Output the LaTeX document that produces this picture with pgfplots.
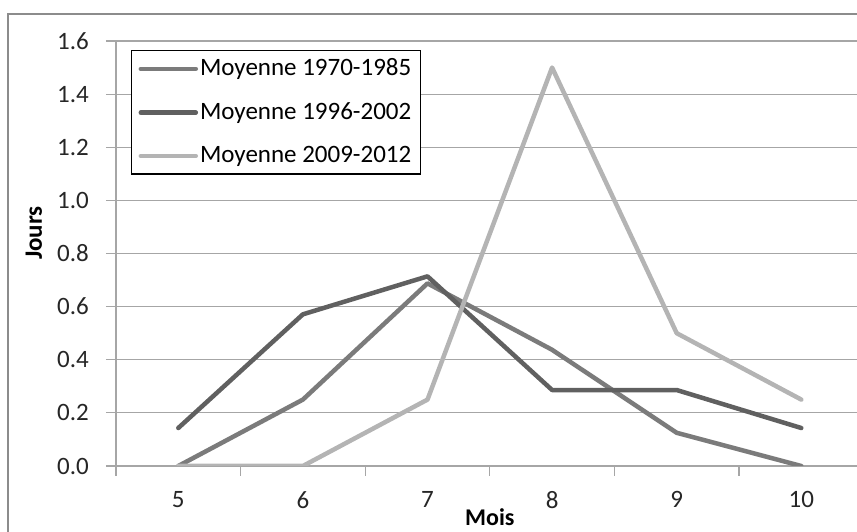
\documentclass[border=0pt]{standalone}
\usepackage{pgfplots}
\pgfplotsset{compat=1.18}
\usepackage{fontspec}
\setmainfont{Carlito}
\definecolor{sA}{HTML}{7B7B7B}
\definecolor{sB}{HTML}{606060}
\definecolor{sC}{HTML}{B4B4B4}
\definecolor{gridc}{HTML}{A6A6A6}
\definecolor{borderc}{HTML}{8C8C8C}
\begin{document}
\fontsize{25}{30}\selectfont
\begin{tikzpicture}
\useasboundingbox (0,0) rectangle (857pt,532pt);
\clip (0,0) rectangle (857pt,532pt);
\draw[borderc, line width=2pt] (8pt,518pt) rectangle (900pt,-20pt);
\begin{axis}[
  at={(116pt,66pt)}, anchor=south west,
  scale only axis, width=747.6pt, height=425pt,
  xmin=4.5, xmax=10.5, ymin=0, ymax=1.6,
  axis x line*=bottom, axis y line*=left,
  axis line style={gridc, line width=1.2pt},
  xtick={4.5,5.5,6.5,7.5,8.5,9.5,10.5},
  xticklabels={5,6,7,8,9,10,{}},
  ytick={0,0.2,...,1.6},
  tick align=outside, major tick length=10pt,
  tick style={gridc, line width=1.2pt},
  ymajorgrids, grid style={gridc, line width=1.2pt},
  yticklabel style={anchor=east, inner sep=0pt, xshift=-17pt},
  xticklabel style={anchor=north, inner sep=0pt, xshift=62.3pt, yshift=-15pt},
  /pgf/number format/.cd, fixed, fixed zerofill, precision=1, assume math mode=true,
  /pgfplots/.cd,
  ticklabel style={font=\fontsize{25}{30}\selectfont, text=black!85},
  xlabel={\bfseries Mois}, ylabel={\bfseries Jours},
  xlabel style={at={(axis description cs:0.5,0)}, anchor=north, inner sep=0pt, yshift=-42pt, font=\fontsize{24}{29}\selectfont},
  ylabel style={at={(axis description cs:-0.11,0.548)}, anchor=center, inner sep=0pt, font=\fontsize{25}{30}\selectfont},
  legend style={at={(axis description cs:0.02,0.979)}, anchor=north west, draw=black, line width=1.2pt, fill=white,
    font=\fontsize{25}{30}\selectfont, row sep=19pt, inner xsep=7pt, inner ysep=6pt,
    nodes={inner sep=2pt}},
  legend cell align=left,
  legend image code/.code={\draw[#1] (0pt,0pt) -- (55pt,0pt);},
  every axis plot/.append style={line width=4.5pt, line join=round, line cap=round},
]
\addplot[sA] coordinates {(5,0) (6,0.25) (7,0.6875) (8,0.4375) (9,0.125) (10,0)};
\addlegendentry{Moyenne 1970-1985}
\addplot[sB] coordinates {(5,0.143) (6,0.571) (7,0.714) (8,0.286) (9,0.286) (10,0.143)};
\addlegendentry{Moyenne 1996-2002}
\addplot[sC] coordinates {(5,0) (6,0) (7,0.25) (8,1.5) (9,0.5) (10,0.25)};
\addlegendentry{Moyenne 2009-2012}
\end{axis}
\end{tikzpicture}
\end{document}
